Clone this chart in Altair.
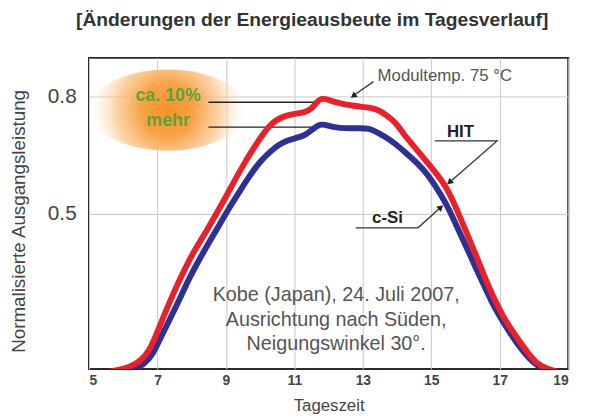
import altair as alt
import pandas as pd

# ---------------- data ----------------
hit_hours = [5.5, 5.9, 6.2, 6.5, 6.75, 6.95, 7.2, 7.5, 7.8, 8.08, 8.4, 8.66, 8.95, 9.24, 9.5,
             9.81, 10.05, 10.28, 10.5, 10.76, 11.0, 11.3, 11.5, 11.65, 11.8, 12.0, 12.3, 12.7,
             13.0, 13.2, 13.45, 13.7, 13.95, 14.2, 14.5, 14.8, 15.1, 15.4, 15.65, 15.9, 16.1,
             16.3, 16.5, 16.7, 16.9, 17.1, 17.35, 17.6, 17.85, 18.05, 18.25, 18.45, 18.7]
hit_power = [0.092, 0.098, 0.106, 0.12, 0.145, 0.185, 0.24, 0.302, 0.358, 0.405, 0.450, 0.490,
             0.535, 0.582, 0.624, 0.668, 0.700, 0.727, 0.742, 0.752, 0.756, 0.760, 0.768, 0.787,
             0.797, 0.792, 0.783, 0.777, 0.774, 0.772, 0.767, 0.752, 0.735, 0.703, 0.672, 0.640,
             0.608, 0.574, 0.530, 0.478, 0.436, 0.394, 0.350, 0.307, 0.270, 0.235, 0.200, 0.169,
             0.138, 0.118, 0.106, 0.099, 0.093]

csi_hours = [6.0, 6.35, 6.6, 6.85, 7.1, 7.4, 7.68, 7.95, 8.26, 8.55, 8.83, 9.1, 9.41, 9.7, 9.99,
             10.3, 10.56, 10.8, 11.0, 11.3, 11.5, 11.75, 12.0, 12.3, 12.8, 13.2, 13.46, 13.7,
             13.95, 14.2, 14.61, 14.9, 15.31, 15.55, 15.77, 16.0, 16.15, 16.35, 16.53, 16.75,
             17.0, 17.25, 17.48, 17.75, 17.97, 18.15, 18.35, 18.6]
csi_power = [0.092, 0.100, 0.112, 0.135, 0.182, 0.235, 0.286, 0.338, 0.388, 0.432, 0.474, 0.515,
             0.558, 0.598, 0.633, 0.660, 0.678, 0.688, 0.693, 0.700, 0.714, 0.732, 0.725, 0.719,
             0.719, 0.720, 0.706, 0.695, 0.679, 0.660, 0.628, 0.600, 0.545, 0.505, 0.462, 0.418,
             0.390, 0.350, 0.318, 0.275, 0.235, 0.200, 0.169, 0.138, 0.118, 0.106, 0.099, 0.093]

x_tick_values = [5, 7, 9, 11, 13, 15, 17, 19]
y_tick_values = [0.5, 0.8]

title_text = "[Änderungen der Energieausbeute im Tagesverlauf]"
x_title = "Tageszeit"
y_title = "Normalisierte Ausgangsleistung"
note_lines = ["Kobe (Japan), 24. Juli 2007,", "Ausrichtung nach Süden,", "Neigungswinkel 30°."]
note_anchor_t = [12.22, 12.22, 12.22]
note_anchor_p = [0.2905, 0.227, 0.1635]

# label anchors (in data units)
labels = pd.DataFrame({
    "t": [13.43, 15.85, 13.72],
    "p": [0.852, 0.7095, 0.4886],
    "txt": ["Modultemp. 75 °C", "HIT", "c-Si"],
})
gain_labels = pd.DataFrame({"t": [7.31, 7.31], "p": [0.801, 0.7375], "txt": ["ca. 10%", "mehr"]})
glow_pos = pd.DataFrame({"t": [7.3], "p": [0.766]})
gain_lines = pd.DataFrame({"t": [8.49, 8.49], "t2": [11.64, 11.64], "p": [0.786, 0.722]})

# leader lines (polylines) and arrow heads
leaders = pd.DataFrame({
    "id": ["m", "m", "h", "h", "h", "c", "c", "c"],
    "o": [0, 1, 0, 1, 2, 0, 1, 2],
    "t": [13.31, 12.76, 15.10, 16.92, 15.57, 12.79, 14.61, 15.24],
    "p": [0.839, 0.805, 0.6867, 0.6867, 0.583, 0.4632, 0.4632, 0.513],
})
heads = pd.DataFrame({
    "t": [12.72, 15.53, 15.28],
    "p": [0.802, 0.580, 0.516],
    "a": [234.5, 228.7, 47.5],
})

FONT = "Liberation Sans"
RED = "#e8212b"
BLUE = "#2d3192"

xs = alt.Scale(domain=[5, 19], nice=False, zero=False)
ys = alt.Scale(domain=[0.1, 0.9], nice=False, zero=False)

x_axis = alt.Axis(values=x_tick_values, grid=True, gridColor="#c8c8c8", gridWidth=1,
                  domain=False, ticks=False, labelFont=FONT, labelFontSize=14,
                  labelFontWeight="bold", labelColor="#444", labelPadding=5,
                  title=x_title, titleFont=FONT, titleFontSize=17, titleFontWeight="normal",
                  titleColor="#444", titleY=37, titleBaseline="middle")
y_axis = alt.Axis(values=y_tick_values, grid=True, gridColor="#c8c8c8", gridWidth=1,
                  domain=False, ticks=False, labelFont=FONT, labelFontSize=21,
                  labelColor="#444", labelPadding=13, format=".1f",
                  title=y_title, titleFont=FONT, titleFontSize=19, titleFontWeight="normal",
                  titleColor="#444", titleX=-71, titleY=165, titleAngle=270,
                  titleAlign="center", titleBaseline="middle")


def X(field="t"):
    return alt.X(f"{field}:Q", scale=xs, axis=x_axis)


def Y(field="p"):
    return alt.Y(f"{field}:Q", scale=ys, axis=y_axis)


glow = alt.Chart(glow_pos).mark_point(
    shape="M -1 0 A 1 0.52 0 1 1 1 0 A 1 0.52 0 1 1 -1 0 Z",
    size=25000, filled=True, opacity=1, strokeOpacity=0,
    fill={"gradient": "radial", "x1": 0.5, "y1": 0.5, "x2": 0.5, "y2": 0.5, "r1": 0, "r2": 0.5,
          "stops": [{"offset": 0, "color": "#f5922a"},
                    {"offset": 0.35, "color": "#f7a448"},
                    {"offset": 0.65, "color": "rgba(250,190,125,0.7)"},
                    {"offset": 1, "color": "rgba(255,235,210,0)"}]},
).encode(x=X(), y=Y())

hlines = alt.Chart(gain_lines).mark_rule(color="#222", strokeWidth=1.5).encode(
    x=X(), x2="t2:Q", y=Y())

csi = alt.Chart(pd.DataFrame({"t": csi_hours, "p": csi_power})).mark_line(
    color=BLUE, strokeWidth=6, interpolate="basis", clip=True, strokeJoin="round"
).encode(x=X(), y=Y())

hit = alt.Chart(pd.DataFrame({"t": hit_hours, "p": hit_power})).mark_line(
    color=RED, strokeWidth=6, interpolate="basis", clip=True, strokeJoin="round"
).encode(x=X(), y=Y())

gain_txt = alt.Chart(gain_labels).mark_text(
    font=FONT, fontSize=18, fontWeight="bold", color="#5ca33a", baseline="middle"
).encode(x=X(), y=Y(), text="txt:N")

mod_txt = alt.Chart(labels.iloc[[0]]).mark_text(
    font=FONT, fontSize=17, color="#555", align="left", baseline="middle"
).encode(x=X(), y=Y(), text="txt:N")

series_txt = alt.Chart(labels.iloc[1:]).mark_text(
    font=FONT, fontSize=17, fontWeight="bold", color="#222", baseline="middle"
).encode(x=X(), y=Y(), text="txt:N")

note = alt.Chart(pd.DataFrame({"t": note_anchor_t, "p": note_anchor_p, "txt": note_lines})).mark_text(
    font=FONT, fontSize=20, color="#555", baseline="middle"
).encode(x=X(), y=Y(), text="txt:N")

title = alt.Chart(pd.DataFrame({"t": [11.52], "p": [0.9965], "txt": [title_text]})).mark_text(
    font=FONT, fontSize=19.5, fontWeight="bold", color="#333", baseline="middle", clip=False
).encode(x=X(), y=Y(), text="txt:N")

lead = alt.Chart(leaders).mark_line(color="#333", strokeWidth=1.3).encode(
    x=X(), y=Y(), detail="id:N", order="o:Q")

head = alt.Chart(heads).mark_point(shape="triangle-up", filled=True, size=50, color="#222",
                                   opacity=1).encode(
    x=X(), y=Y(), angle=alt.Angle("a:Q", scale=None))

chart = alt.layer(glow, hlines, csi, hit, gain_txt, mod_txt, series_txt, note, lead, head, title).properties(
    width=485, height=315,
    autosize=alt.AutoSizeParams(type="none"),
    padding={"left": 82, "top": 48, "right": 18, "bottom": 47},
    background="white",
).configure_view(stroke="#2b2b2b", strokeWidth=2)

chart.save("out.html", embed_options={"renderer": "svg", "actions": False})
